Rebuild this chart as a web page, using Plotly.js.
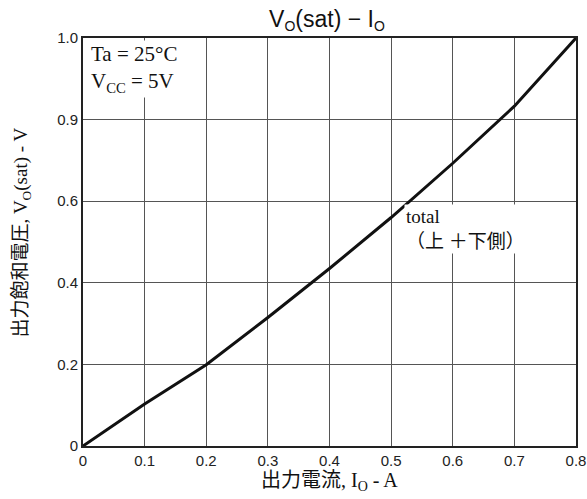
<!DOCTYPE html>
<html>
<head>
<meta charset="utf-8">
<script src="https://cdn.plot.ly/plotly-3.0.1.min.js"></script>
<style>html,body{margin:0;padding:0;background:#fff;}#chart{width:587px;height:499px;}</style>
</head>
<body>
<div id="chart"></div>
<script>
// Output current (A)
const currentA = [0, 0.1, 0.2, 0.3, 0.4, 0.5, 0.6, 0.7, 0.8];
// Saturation voltage read at grid positions (axis is evenly spaced grid)
const vsat = [0, 0.103, 0.199, 0.315, 0.435, 0.56, 0.693, 0.833, 1.0];
const xTicks = [0, 0.1, 0.2, 0.3, 0.4, 0.5, 0.6, 0.7, 0.8];
const xTickText = ['0', '0.1', '0.2', '0.3', '0.4', '0.5', '0.6', '0.7', '0.8'];
const yTicks = [0, 0.2, 0.4, 0.6, 0.8, 1.0];
const yTickText = ['0', '0.2', '0.4', '0.6', '0.9', '1.0'];

const serif = 'Liberation Serif, "Noto Sans CJK JP", serif';
const sans = 'Liberation Sans, Arial, sans-serif';

const trace = {
  x: currentA, y: vsat, type: 'scatter', mode: 'lines',
  line: {color: '#111', width: 3}, hoverinfo: 'skip', showlegend: false
};

const layout = {
  width: 587, height: 499,
  margin: {l: 83, r: 11, t: 38, b: 53},
  paper_bgcolor: '#fff', plot_bgcolor: '#fff',
  title: {text: 'V<span style="font-size:20px"><sub>O</sub></span>(sat) − I<span style="font-size:20px"><sub>O</sub></span>',
          font: {family: sans, size: 23, color: '#111'},
          x: 0.557, xanchor: 'center', y: 0.963, yanchor: 'middle'},
  xaxis: {
    range: [0, 0.8], tickvals: xTicks, ticktext: xTickText,
    showgrid: true, gridcolor: '#555', gridwidth: 1,
    showline: true, linecolor: '#222', linewidth: 2, mirror: true,
    ticks: '', zeroline: false,
    tickfont: {family: sans, size: 15, color: '#222'}
  },
  yaxis: {
    range: [0, 1.0], tickvals: yTicks, ticktext: yTickText,
    showgrid: true, gridcolor: '#555', gridwidth: 1,
    showline: true, linecolor: '#222', linewidth: 2, mirror: true,
    ticks: '', zeroline: false,
    tickfont: {family: sans, size: 15, color: '#222'}
  },
  annotations: [
    {xref: 'paper', yref: 'paper', x: 0.012, y: 0.995, xanchor: 'left', yanchor: 'top', align: 'left',
     text: 'Ta = 25°C<br>V<sub>CC</sub> = 5V', showarrow: false, bgcolor: '#fff',
     font: {family: serif, size: 21, color: '#111'}},
    {xref: 'x', yref: 'y', x: 0.521, y: 0.592, xanchor: 'left', yanchor: 'top', align: 'left',
     text: 'total<br>（上 ＋下側）', showarrow: false, bgcolor: '#fff',
     font: {family: serif, size: 19, color: '#111'}},
    {xref: 'paper', yref: 'paper', x: 0.499, y: 0, xanchor: 'center', yanchor: 'middle', yshift: -35,
     text: '出力電流, I<sub>O</sub> - A', showarrow: false,
     font: {family: serif, size: 20, color: '#111'}},
    {xref: 'paper', yref: 'paper', x: 0, y: 0.523, xanchor: 'center', yanchor: 'middle', xshift: -61,
     textangle: -90, text: '出力飽和電圧, V<sub>O</sub>(sat) - V', showarrow: false,
     font: {family: serif, size: 19, color: '#111'}}
  ]
};

Plotly.newPlot('chart', [trace], layout, {displayModeBar: false, staticPlot: true});
</script>
</body>
</html>
